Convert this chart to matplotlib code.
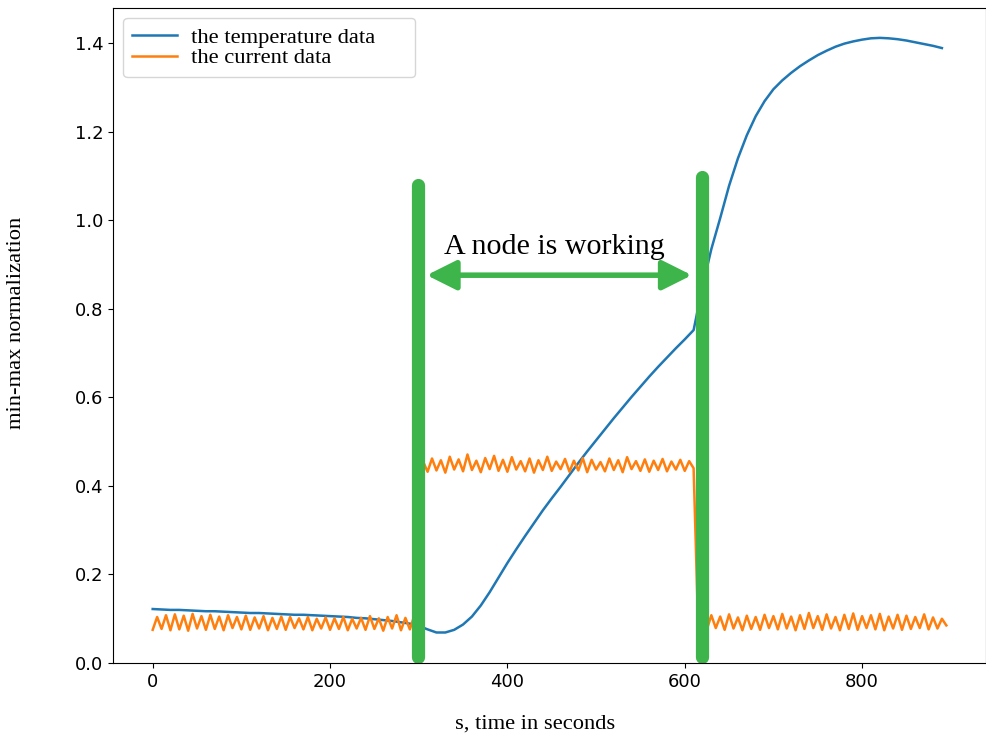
import numpy as np
import matplotlib
matplotlib.use("Agg")
import matplotlib.pyplot as plt
from matplotlib.patches import FancyArrowPatch

# temperature, sampled every 10 s
temp_time = np.arange(0, 900, 10)
temp_values = [
    0.122, 0.121, 0.120, 0.120, 0.119, 0.118, 0.117, 0.117, 0.116, 0.115,
    0.114, 0.113, 0.113, 0.112, 0.111, 0.110, 0.109, 0.109, 0.108, 0.107,
    0.106, 0.105, 0.104, 0.102, 0.101, 0.099, 0.097, 0.095, 0.092, 0.089,
    0.084, 0.076, 0.069, 0.069, 0.075, 0.087, 0.105, 0.130, 0.160, 0.193,
    0.226, 0.257, 0.287, 0.316, 0.345, 0.372, 0.398, 0.425, 0.452, 0.478,
    0.503, 0.528, 0.553, 0.577, 0.601, 0.624, 0.647, 0.669, 0.690, 0.711,
    0.731, 0.752, 0.850, 0.935, 1.005, 1.078, 1.140, 1.192, 1.235, 1.269,
    1.296, 1.316, 1.333, 1.348, 1.361, 1.373, 1.383, 1.392, 1.399, 1.404,
    1.408, 1.411, 1.412, 1.411, 1.409, 1.406, 1.402, 1.398, 1.394, 1.389,
]

# current, sampled every 5 s (idle / working / idle)
current_idle1 = [
    0.075, 0.104, 0.077, 0.108, 0.074, 0.110, 0.076, 0.107, 0.073, 0.111,
    0.078, 0.106, 0.075, 0.109, 0.077, 0.105, 0.074, 0.108, 0.079, 0.104,
    0.076, 0.107, 0.075, 0.103, 0.078, 0.106, 0.074, 0.102, 0.077, 0.105,
    0.075, 0.104, 0.079, 0.101, 0.076, 0.104, 0.074, 0.100, 0.078, 0.103,
    0.075, 0.101, 0.077, 0.104, 0.074, 0.100, 0.078, 0.102, 0.075, 0.106,
    0.077, 0.101, 0.073, 0.104, 0.078, 0.108, 0.074, 0.102, 0.076, 0.107,
    0.085,
]
current_work = [
    0.455, 0.432, 0.462, 0.435, 0.458, 0.430, 0.466, 0.437, 0.460, 0.433,
    0.471, 0.436, 0.457, 0.431, 0.463, 0.438, 0.468, 0.434, 0.459, 0.432,
    0.465, 0.437, 0.456, 0.433, 0.462, 0.430, 0.458, 0.436, 0.466, 0.434,
    0.455, 0.438, 0.461, 0.432, 0.457, 0.435, 0.463, 0.431, 0.459, 0.437,
    0.454, 0.433, 0.462, 0.436, 0.458, 0.431, 0.465, 0.438, 0.456, 0.434,
    0.460, 0.432, 0.457, 0.436, 0.461, 0.433, 0.455, 0.437, 0.459, 0.434,
    0.456, 0.440,
]
current_idle2 = [
    0.090, 0.104, 0.076, 0.108, 0.079, 0.105, 0.075, 0.110, 0.078, 0.103,
    0.074, 0.107, 0.077, 0.104, 0.075, 0.109, 0.079, 0.106, 0.076, 0.111,
    0.078, 0.105, 0.074, 0.108, 0.077, 0.113, 0.079, 0.106, 0.075, 0.110,
    0.078, 0.104, 0.074, 0.109, 0.077, 0.112, 0.075, 0.106, 0.079, 0.108,
    0.076, 0.111, 0.074, 0.105, 0.078, 0.109, 0.075, 0.107, 0.077, 0.104,
    0.079, 0.110, 0.076, 0.103, 0.078, 0.100, 0.085,
]
current_values = current_idle1 + current_work + current_idle2
current_time = np.arange(len(current_values)) * 5

# working interval markers
work_start = 299
work_end = 620
serif = "Liberation Serif"
green = "#3db54a"

fig = plt.figure(figsize=(9.87, 7.40), dpi=100)
ax = fig.add_axes([0.1145, 0.104, 0.8845, 0.885])

ax.plot(temp_time, temp_values, color="#1f77b4", lw=1.8, label="the temperature data")
ax.plot(current_time, current_values, color="#ff7f0e", lw=1.8, label="the current data")
ax.set_ylim(bottom=0)

ax.plot([work_start, work_start], [0.014, 1.079], color=green, lw=9.5,
        solid_capstyle="round")
ax.plot([work_end, work_end], [0.014, 1.097], color=green, lw=9.5,
        solid_capstyle="round")
arrow = FancyArrowPatch((309, 0.876), (608, 0.876),
                        arrowstyle="<|-|>,head_length=1.2,head_width=0.6",
                        mutation_scale=15, color=green, lw=4,
                        shrinkA=0, shrinkB=0)
ax.add_patch(arrow)
ax.text(453, 0.923, "A node is working", family=serif, fontsize=21.6,
        ha="center", va="baseline")

ax.tick_params(labelsize=13)
ax.set_xlabel("s, time in seconds", family=serif, fontsize=16.2)
ax.set_ylabel("min-max normalization", family=serif, fontsize=16.2)
ax.xaxis.set_label_coords(0.483, -0.079)
ax.yaxis.set_label_coords(-0.1, 0.52)

ax.legend(loc="upper left", bbox_to_anchor=(0.0115, 0.985, 0.3345, 0),
          mode="expand", borderaxespad=0, handletextpad=0.6,
          prop={"family": serif, "size": 16.2}, labelspacing=0.0)

fig.savefig("out.png", dpi=100)
